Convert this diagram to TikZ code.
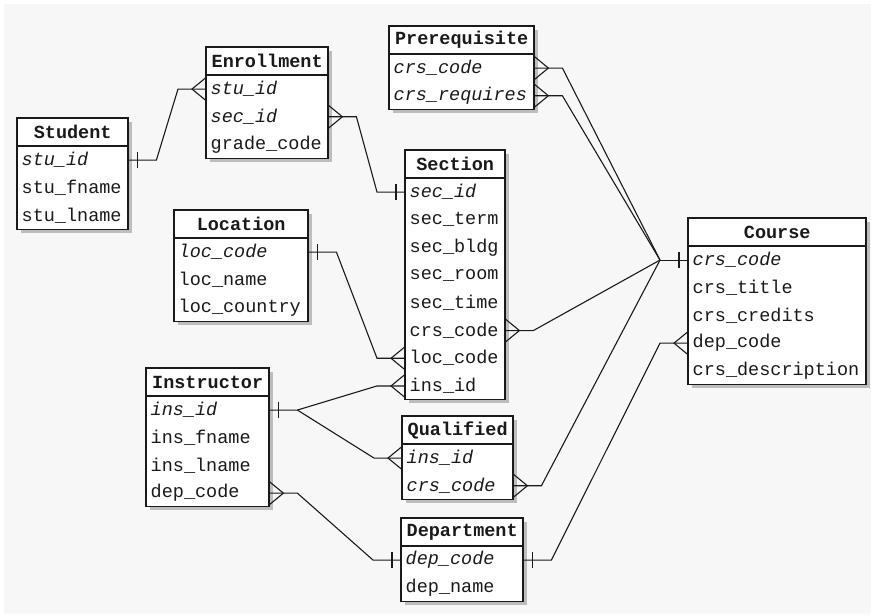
\documentclass[tikz,border=0pt]{standalone}
\usepackage{fontspec}
\setmainfont{Liberation Mono}
\usepackage{xcolor}
\usepackage{tikz}
\usetikzlibrary{calc}
\definecolor{paper}{HTML}{F7F7F7}
\definecolor{shade}{HTML}{BDBDBD}
\definecolor{ink}{HTML}{1A1A1A}
\tikzset{
  entBox/.style={draw=ink, line width=1.2pt, fill=white},
  entLine/.style={draw=ink, line width=1.2pt},
  entShadow/.style={fill=shade},
  entHead/.style={anchor=north west, inner xsep=0pt, inner ysep=0pt, minimum height=28pt,
    font=\fontsize{18.5}{20}\selectfont\bfseries, text=ink},
  entRow/.style={anchor=north west, inner xsep=4.5pt, inner ysep=0pt, minimum height=27.7pt,
    align=left, font=\fontsize{18.5}{20}\selectfont, text=ink},
  relLine/.style={draw=ink, line width=1.1pt},
  manyW/.pic={\draw[relLine] (0,-11.5) -- (-14,0) -- (0,11.5);},
  oneW/.pic={\draw[relLine] (-9,-8) -- (-9,8);}
}
\newcommand{\pk}[1]{\textit{#1}}
% name, x, y, width, rows, title, attributes
\newcommand{\entity}[7]{%
  \fill[entShadow] ({#2+3.5},{#3+3.5}) rectangle ({#2+#4+3.5},{#3+28+27.7*#5+3.5});
  \draw[entBox] (#2,#3) rectangle ({#2+#4},{#3+28+27.7*#5});
  \draw[entLine] (#2,{#3+28}) -- ({#2+#4},{#3+28});
  \node[entHead, minimum width=#4pt] (#1) at (#2,#3) {#6};
  \pgfmathsetmacro\rowW{#4-9}
  \foreach \attr [count=\i] in {#7}
    \node[entRow, text width=\rowW pt] (#1-\i) at (#2,{#3+28+27.7*(\i-1)}) {\attr};
}
\newcommand{\relate}[2]{%
  \draw[relLine] (#1.east) -- ++(28,0) -- ($(#2.west)+(-28,0)$) -- (#2.west);}

\begin{document}
\begin{tikzpicture}[x=1pt, y=-1pt]
  \useasboundingbox (0,0) rectangle (871,614);
  \fill[white] (0,0) rectangle (871,614);
  \fill[paper] (4,4) rectangle (871,614);

  % tables
  \entity{student}{17}{118}{111}{3}{Student}{\pk{stu\_id}, stu\_fname, stu\_lname}
  \entity{enrollment}{206}{47}{122}{3}{Enrollment}{\pk{stu\_id}, \pk{sec\_id}, grade\_code}
  \entity{prerequisite}{389}{26}{145}{2}{Prerequisite}{\pk{crs\_code}, \pk{crs\_requires}}
  \entity{section}{405}{150}{100}{8}{Section}{\pk{sec\_id}, sec\_term, sec\_bldg, sec\_room,
    sec\_time, crs\_code, loc\_code, ins\_id}
  \entity{course}{688}{218}{178}{5}{Course}{\pk{crs\_code}, crs\_title, crs\_credits,
    dep\_code, crs\_description}
  \entity{location}{174}{210}{134}{3}{Location}{\pk{loc\_code}, loc\_name, loc\_country}
  \entity{instructor}{146}{368}{123}{4}{Instructor}{\pk{ins\_id}, ins\_fname, ins\_lname, dep\_code}
  \entity{qualified}{402}{416}{111}{2}{Qualified}{\pk{ins\_id}, \pk{crs\_code}}
  \entity{department}{401}{518}{122}{2}{Department}{\pk{dep\_code}, dep\_name}

  % relationships
  \relate{student-1}{enrollment-1}
  \relate{enrollment-2}{section-1}
  \relate{location-1}{section-7}
  \relate{instructor-4}{department-1}
  \relate{department-1}{course-4}

  \coordinate (crsHub) at ($(course-1.west)+(-28,0)$);
  \draw[relLine] (crsHub) -- (course-1.west);
  \draw[relLine] (prerequisite-1.east) -- ++(28,0) -- (crsHub);
  \draw[relLine] (prerequisite-2.east) -- ++(28,0) -- (crsHub);
  \draw[relLine] (section-6.east) -- ++(28,0) -- (crsHub);
  \draw[relLine] (qualified-2.east) -- ++(28,0) -- (crsHub);

  \draw[relLine] (instructor-1.east) -- ++(28,0) coordinate (insHub)
    -- ($(section-8.west)+(-28,0)$) -- (section-8.west);
  \draw[relLine] (insHub) -- ($(qualified-1.west)+(-28,0)$) -- (qualified-1.west);

  % ends
  \foreach \e in {enrollment-1, section-7, section-8, qualified-1, course-4}
    \pic at (\e.west) {manyW};
  \foreach \e in {enrollment-2, prerequisite-1, prerequisite-2, section-6, qualified-2, instructor-4}
    \pic[xscale=-1] at (\e.east) {manyW};
  \foreach \e in {section-1, course-1, department-1}
    \pic at (\e.west) {oneW};
  \foreach \e in {student-1, location-1, instructor-1, department-1}
    \pic[xscale=-1] at (\e.east) {oneW};
\end{tikzpicture}
\end{document}
